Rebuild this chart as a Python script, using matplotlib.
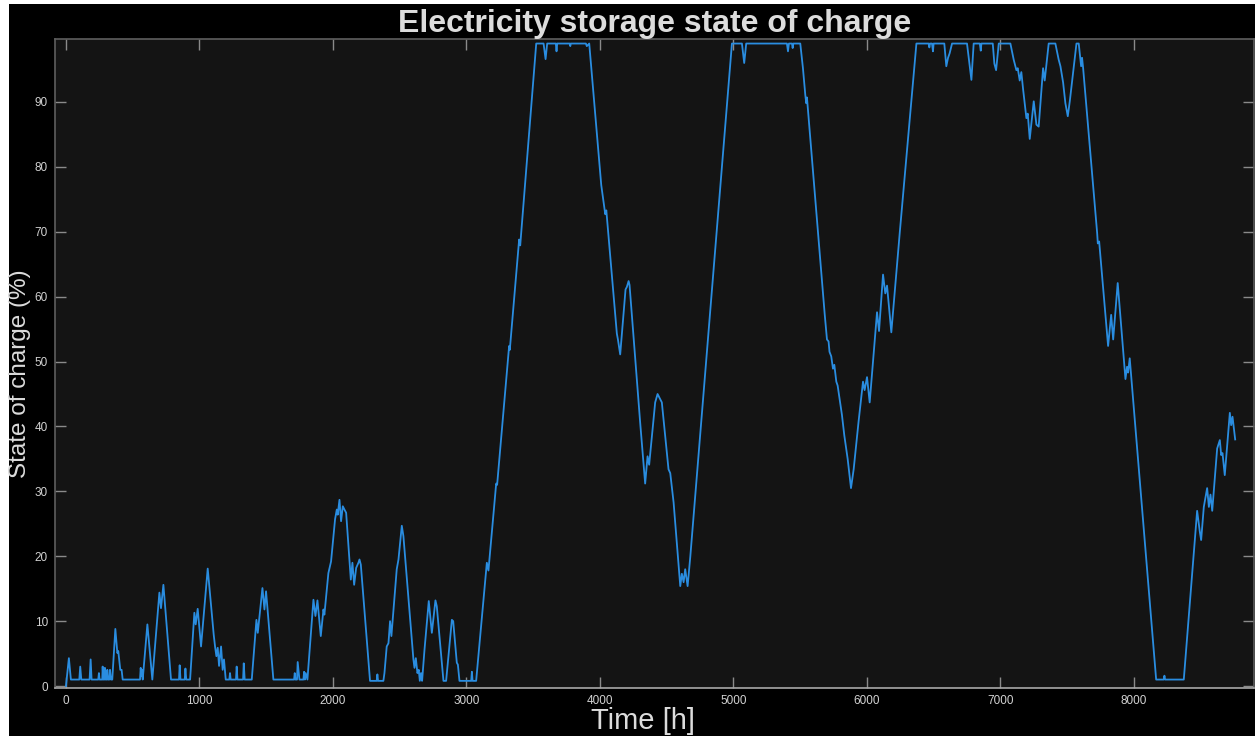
import numpy as np
import matplotlib
matplotlib.use('Agg')
import matplotlib.pyplot as plt
from matplotlib.patches import Rectangle

# state of charge, (hour, %)
hours = [
    0, 22, 37, 100, 107, 115, 177, 185, 192, 242, 247, 252, 272, 275, 280, 288, 292, 297, 306, 310,
    315, 325, 330, 337, 347, 370, 385, 392, 407, 417, 425, 555, 560, 565, 570, 575, 610, 647, 700, 712,
    730, 787, 847, 852, 858, 890, 895, 901, 930, 962, 972, 987, 1012, 1062, 1107, 1117, 1127, 1137, 1147, 1162,
    1174, 1184, 1197, 1224, 1229, 1234, 1274, 1279, 1285, 1327, 1332, 1339, 1392, 1427, 1437, 1472, 1487, 1499, 1554, 1709,
    1714, 1719, 1731, 1736, 1749, 1779, 1784, 1790, 1796, 1809, 1854, 1869, 1884, 1909, 1929, 1936, 1966, 1986, 2016, 2029,
    2036, 2049, 2061, 2074, 2086, 2099, 2134, 2146, 2159, 2174, 2191, 2199, 2209, 2278, 2328, 2333, 2338, 2378, 2386, 2403,
    2416, 2428, 2438, 2478, 2491, 2516, 2528, 2603, 2611, 2621, 2633, 2643, 2651, 2660, 2668, 2686, 2718, 2741, 2768, 2778,
    2828, 2848, 2891, 2901, 2928, 2936, 2948, 3036, 3041, 3046, 3073, 3083, 3153, 3165, 3223, 3230, 3320, 3325, 3395, 3403,
    3523, 3578, 3593, 3605, 3670, 3675, 3680, 3774, 3778, 3782, 3895, 3902, 3920, 4010, 4018, 4032, 4040, 4048, 4127, 4135,
    4152, 4192, 4202, 4215, 4222, 4302, 4339, 4357, 4369, 4414, 4432, 4464, 4514, 4527, 4552, 4602, 4614, 4627, 4639, 4657,
    4677, 4989, 5064, 5081, 5096, 5401, 5409, 5416, 5439, 5444, 5449, 5501, 5521, 5539, 5546, 5551, 5684, 5701, 5713, 5720,
    5733, 5746, 5756, 5771, 5781, 5813, 5831, 5856, 5881, 5901, 5938, 5971, 5983, 6001, 6021, 6076, 6091, 6121, 6138, 6151,
    6183, 6246, 6371, 6463, 6468, 6473, 6488, 6495, 6500, 6580, 6595, 6608, 6620, 6638, 6750, 6768, 6783, 6800, 6846, 6853,
    6858, 6943, 6955, 6968, 6988, 7075, 7100, 7120, 7130, 7145, 7157, 7170, 7195, 7205, 7220, 7250, 7270, 7287, 7320, 7332,
    7362, 7412, 7437, 7450, 7470, 7487, 7505, 7520, 7570, 7587, 7605, 7612, 7620, 7725, 7730, 7740, 7807, 7830, 7845, 7879,
    7937, 7949, 7957, 7969, 8167, 8224, 8229, 8234, 8374, 8474, 8494, 8504, 8524, 8549, 8562, 8574, 8587, 8624, 8644, 8654,
    8664, 8681, 8719, 8729, 8739, 8759,
]
soc = [
    0, 4.3, 1, 1, 3.0, 1, 1, 4.1, 1, 1, 2.0, 1, 1, 3.0, 1, 1, 2.8, 1, 1, 2.5,
    1, 1, 2.5, 1, 1, 8.8, 5.1, 5.4, 2.5, 2.5, 1, 1, 2.8, 1.5, 2.5, 1, 9.5, 1, 14.4, 12,
    15.6, 1, 1, 3.2, 1, 1, 2.7, 1, 1, 11.3, 9.5, 11.9, 6.1, 18.1, 7.9, 6.1, 4.6, 5.9, 3.1, 6.1,
    2.5, 4.1, 1, 1, 2.0, 1, 1, 3.0, 1, 1, 3.5, 1, 1, 10.2, 8.2, 15.1, 11.8, 14.6, 1, 1,
    2.0, 1, 1, 3.7, 1, 1, 2.2, 1, 2.0, 1, 13.3, 10.8, 13.2, 7.7, 11.8, 11.0, 17.4, 19.2, 25.7, 27.2,
    26.4, 28.7, 25.4, 27.7, 27.2, 26.7, 16.4, 19.0, 15.6, 18.2, 19.0, 19.5, 18.7, 0.8, 0.8, 1.8, 0.8, 0.8, 2.0, 6.1,
    6.6, 10.0, 7.7, 18.0, 19.5, 24.7, 23.1, 4.1, 2.8, 4.3, 2.0, 2.5, 0.8, 2.0, 0.8, 5.6, 13.1, 8.2, 13.2, 12.3,
    0.8, 0.8, 10.2, 10.0, 3.6, 3.3, 0.8, 0.8, 2.2, 0.8, 0.8, 3.1, 19.0, 17.8, 31.2, 31.0, 52.4, 51.8, 68.8, 67.9,
    99, 99, 96.6, 99, 99, 97.8, 99, 99, 98.6, 99, 99, 98.6, 99, 77.2, 76, 74, 72.7, 73.3, 54.3, 53.4,
    51.1, 61.1, 61.5, 62.4, 61.8, 40.5, 31.2, 35.4, 34.1, 43.7, 45.0, 43.7, 33.4, 32.8, 28.3, 15.4, 17.3, 16.0, 18, 15.4,
    19.9, 99, 99, 96, 99, 99, 97.8, 99, 99, 98.3, 99, 99, 95.2, 91, 89.8, 90.7, 57.3, 53.4, 53.1, 51.5,
    50.8, 48.9, 49.5, 46.9, 46.3, 41.8, 38.6, 35.0, 30.5, 33.4, 40.8, 46.9, 45.6, 47.6, 43.7, 57.6, 54.7, 63.4, 60.5, 61.7,
    54.5, 69.8, 99, 99, 98.4, 99, 99, 97.8, 99, 99, 95.5, 96.8, 97.5, 99, 99, 95.9, 93.4, 99, 99, 97.9,
    99, 99, 95.9, 94.9, 99, 99, 96.5, 94.9, 95.2, 93.3, 94.6, 92, 87.5, 88.2, 84.3, 90.1, 86.5, 86.2, 95.2, 93.3,
    99, 99, 96.5, 95.5, 93, 89.8, 87.8, 90.1, 99, 99, 95.5, 96.8, 95.2, 69.8, 68.2, 68.5, 52.4, 57.2, 53.4, 62.1,
    47.3, 49.2, 48.3, 50.5, 1, 1, 1.6, 1, 1, 27, 23.8, 22.5, 27.6, 30.5, 27.6, 29.5, 27, 36.6, 37.9, 35.6,
    35.9, 32.5, 42.1, 40.2, 41.5, 38.0,
]
x_ticks = [0, 1000, 2000, 3000, 4000, 5000, 6000, 7000, 8000]
y_ticks = [0, 10, 20, 30, 40, 50, 60, 70, 80, 90]

plt.rcParams['font.family'] = ['Liberation Sans', 'DejaVu Sans']

fig = plt.figure(figsize=(12.55, 7.36), dpi=100, facecolor='white')
# black backdrop, thin white strip left/top like the screenshot
fig.patches.append(Rectangle((9 / 1255, 0), 1, 1 - 4 / 736, transform=fig.transFigure,
                             facecolor='black', edgecolor='none', zorder=-10))

ax = fig.add_axes([55 / 1255, 48 / 736, 1199 / 1255, 649 / 736])
ax.set_facecolor('#141414')
ax.plot(hours, soc, color='#2a8de0', lw=1.3)

ax.set_xlim(-82, 8900)
ax.set_ylim(-0.3, 99.7)
ax.set_xticks(x_ticks)
ax.set_yticks(y_ticks)

ax.tick_params(direction='in', length=8, width=1, color='#8a8a8a',
               labelcolor='#d2d2d2', labelsize=8.5, top=True, right=True, pad=5)
for side in ['top', 'left', 'right']:
    ax.spines[side].set_color('#5e5e5e')
ax.spines['bottom'].set_color('#a8a8a8')
for s in ax.spines.values():
    s.set_linewidth(1.2)

ax.set_title('Electricity storage state of charge', fontsize=23, fontweight='bold',
             color='#dcdcdc', pad=5)
ax.set_xlabel('Time [h]', fontsize=21, color='#dcdcdc')
ax.xaxis.set_label_coords(0.49, -0.03)
ax.set_ylabel('State of charge (%)', fontsize=17.5, color='#dcdcdc')
ax.yaxis.set_label_coords(-0.02, 0.485)

fig.savefig('out.png', dpi=100, facecolor=fig.get_facecolor())
